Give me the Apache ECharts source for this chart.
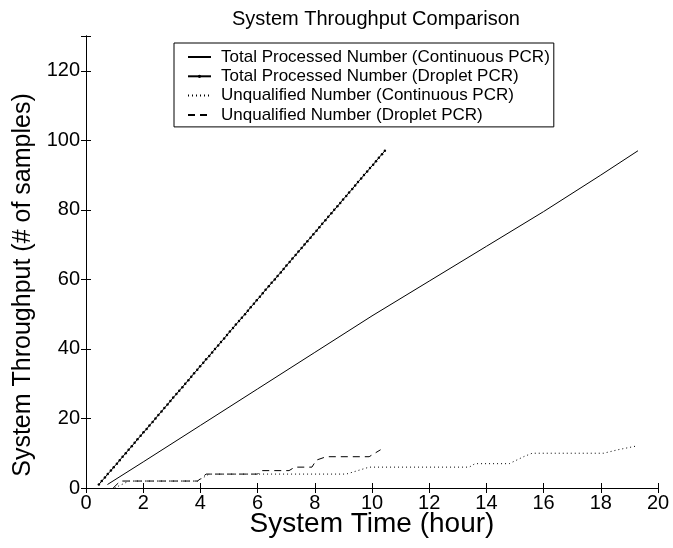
<html>
<head>
    <meta charset='utf-8' />
    <title>System Throughput Comparison</title>
    <style>
        body { margin: 0; padding: 0; background: #fff; }
        #chart { width: 673px; height: 548px; }
    </style>
</head>
<body>
    <div id='chart'></div>
    <script src="https://cdn.jsdelivr.net/npm/echarts@6/dist/echarts.min.js"></script>
    <script type="text/javascript">
        // series names
        var seriesNames = [
            'Total Processed Number (Continuous PCR)',
            'Total Processed Number (Droplet PCR)',
            'Unqualified Number (Continuous PCR)',
            'Unqualified Number (Droplet PCR)'
        ];

        // total processed, continuous PCR (hours, samples)
        var contTotalX = [0.75, 2, 4, 6, 8, 10, 12, 14, 16, 18, 19.3];
        var contTotalY = [1, 7.5, 18, 28.5, 39, 49.5, 59.5, 69.5, 79.5, 90, 97];

        // total processed, droplet PCR - one marker per sample
        var dropTotalX = [0.45, 0.55, 0.66, 0.76, 0.87, 0.97, 1.08, 1.18, 1.28, 1.39,
            1.49, 1.60, 1.70, 1.80, 1.91, 2.01, 2.12, 2.22, 2.33, 2.43,
            2.53, 2.64, 2.74, 2.85, 2.95, 3.05, 3.16, 3.26, 3.37, 3.47,
            3.58, 3.68, 3.78, 3.89, 3.99, 4.10, 4.20, 4.31, 4.41, 4.51,
            4.62, 4.72, 4.83, 4.93, 5.03, 5.14, 5.24, 5.35, 5.45, 5.56,
            5.66, 5.76, 5.87, 5.97, 6.08, 6.18, 6.28, 6.39, 6.49, 6.60,
            6.70, 6.81, 6.91, 7.01, 7.12, 7.22, 7.33, 7.43, 7.54, 7.64,
            7.74, 7.85, 7.95, 8.06, 8.16, 8.26, 8.37, 8.47, 8.58, 8.68,
            8.79, 8.89, 8.99, 9.10, 9.20, 9.31, 9.41, 9.51, 9.62, 9.72,
            9.83, 9.93, 10.04, 10.14, 10.24, 10.35, 10.45];
        var dropTotalY = [1, 2, 3, 4, 5, 6, 7, 8, 9, 10,
            11, 12, 13, 14, 15, 16, 17, 18, 19, 20,
            21, 22, 23, 24, 25, 26, 27, 28, 29, 30,
            31, 32, 33, 34, 35, 36, 37, 38, 39, 40,
            41, 42, 43, 44, 45, 46, 47, 48, 49, 50,
            51, 52, 53, 54, 55, 56, 57, 58, 59, 60,
            61, 62, 63, 64, 65, 66, 67, 68, 69, 70,
            71, 72, 73, 74, 75, 76, 77, 78, 79, 80,
            81, 82, 83, 84, 85, 86, 87, 88, 89, 90,
            91, 92, 93, 94, 95, 96, 97];

        // unqualified, continuous PCR
        var uqContX = [1.0, 1.5, 3.9, 4.3, 9.1, 9.9, 13.4, 13.6, 14.8, 15.3, 15.6, 18.1, 18.6, 19.2];
        var uqContY = [0, 2, 2, 4, 4, 6, 6, 7, 7, 9, 10, 10, 11, 12];

        // unqualified, droplet PCR
        var uqDropX = [0.95, 1.2, 3.9, 4.2, 6.0, 6.1, 7.1, 7.3, 7.9, 8.05, 8.4, 9.9, 10.3];
        var uqDropY = [0, 2, 2, 4, 4, 5, 5, 6, 6, 8, 9, 9, 11];

        var xTicks = [0, 2, 4, 6, 8, 10, 12, 14, 16, 18, 20];
        var yTicks = [0, 20, 40, 60, 80, 100, 120];

        function pairs(xs, ys) {
            return xs.map(function (x, i) { return [x, ys[i]]; });
        }

        var font = 'Liberation Sans, Arial, Helvetica, sans-serif';
        var black = '#000';

        var chart = echarts.init(document.getElementById('chart'), null, { renderer: 'canvas' });

        var axisLineStyle = { show: true, lineStyle: { color: black, width: 1 } };
        var tickStyle = { show: true, inside: true, length: 5, lineStyle: { color: black } };

        // legend rows: only the droplet total keeps its dot marker
        var legendData = seriesNames.map(function (n, i) {
            return i === 1 ? { name: n } : { name: n, itemStyle: { opacity: 0 } };
        });

        chart.setOption({
            animation: false,
            backgroundColor: '#fff',
            textStyle: { fontFamily: font },
            title: {
                text: 'System Throughput Comparison',
                left: 227,
                top: 4,
                textStyle: { fontFamily: font, fontSize: 20, fontWeight: 'normal', color: black }
            },
            grid: { left: 86, right: 15, top: 36, bottom: 60 },
            legend: {
                data: legendData,
                orient: 'vertical',
                left: 174,
                top: 43,
                padding: [5.5, 4, 3.5, 13],
                itemWidth: 23,
                itemHeight: 4,
                itemGap: 2.3,
                borderColor: black,
                borderWidth: 1,
                backgroundColor: '#fff',
                textStyle: { fontFamily: font, fontSize: 17, lineHeight: 17, color: black, padding: [0, 0, 0, 5] }
            },
            xAxis: [{
                type: 'value',
                min: xTicks[0],
                max: xTicks[xTicks.length - 1],
                interval: 2,
                name: 'System Time (hour)',
                nameLocation: 'middle',
                nameGap: 22,
                nameMoveOverlap: false,
                nameTextStyle: { fontFamily: font, fontSize: 28, color: black },
                axisLine: axisLineStyle,
                axisTick: tickStyle,
                splitLine: { show: false },
                axisLabel: { fontFamily: font, fontSize: 20, color: black, margin: 5 }
            }, {
                type: 'value',
                position: 'top',
                min: xTicks[0],
                max: xTicks[xTicks.length - 1],
                interval: 2,
                axisLine: axisLineStyle,
                axisTick: tickStyle,
                splitLine: { show: false },
                axisLabel: { show: false }
            }],
            yAxis: [{
                type: 'value',
                min: yTicks[0],
                max: 130,
                interval: 20,
                name: 'System Throughput (# of samples)',
                nameLocation: 'middle',
                nameGap: 30,
                nameTextStyle: { fontFamily: font, fontSize: 25, color: black, padding: [0, 46, 0, 0] },
                axisLine: axisLineStyle,
                axisTick: tickStyle,
                splitLine: { show: false },
                axisLabel: {
                    fontFamily: font, fontSize: 20, color: black, margin: 6,
                    formatter: function (v) { return yTicks.indexOf(v) >= 0 ? String(v) : ''; }
                }
            }, {
                type: 'value',
                position: 'right',
                min: yTicks[0],
                max: 130,
                interval: 20,
                axisLine: axisLineStyle,
                axisTick: tickStyle,
                splitLine: { show: false },
                axisLabel: { show: false }
            }],
            series: [{
                name: seriesNames[0],
                type: 'line',
                data: pairs(contTotalX, contTotalY),
                symbol: 'none',
                lineStyle: { color: black, width: 1 },
                itemStyle: { color: black }
            }, {
                name: seriesNames[1],
                type: 'line',
                data: pairs(dropTotalX, dropTotalY),
                symbol: 'circle',
                symbolSize: 2.5,
                showAllSymbol: true,
                lineStyle: { color: black, width: 1 },
                itemStyle: { color: black }
            }, {
                name: seriesNames[2],
                type: 'line',
                data: pairs(uqContX, uqContY),
                symbol: 'none',
                lineStyle: { color: black, width: 1, type: [1, 3] },
                itemStyle: { color: black }
            }, {
                name: seriesNames[3],
                type: 'line',
                data: pairs(uqDropX, uqDropY),
                symbol: 'none',
                lineStyle: { color: black, width: 1, type: [7, 5] },
                itemStyle: { color: black }
            }]
        });
    </script>
</body>
</html>
